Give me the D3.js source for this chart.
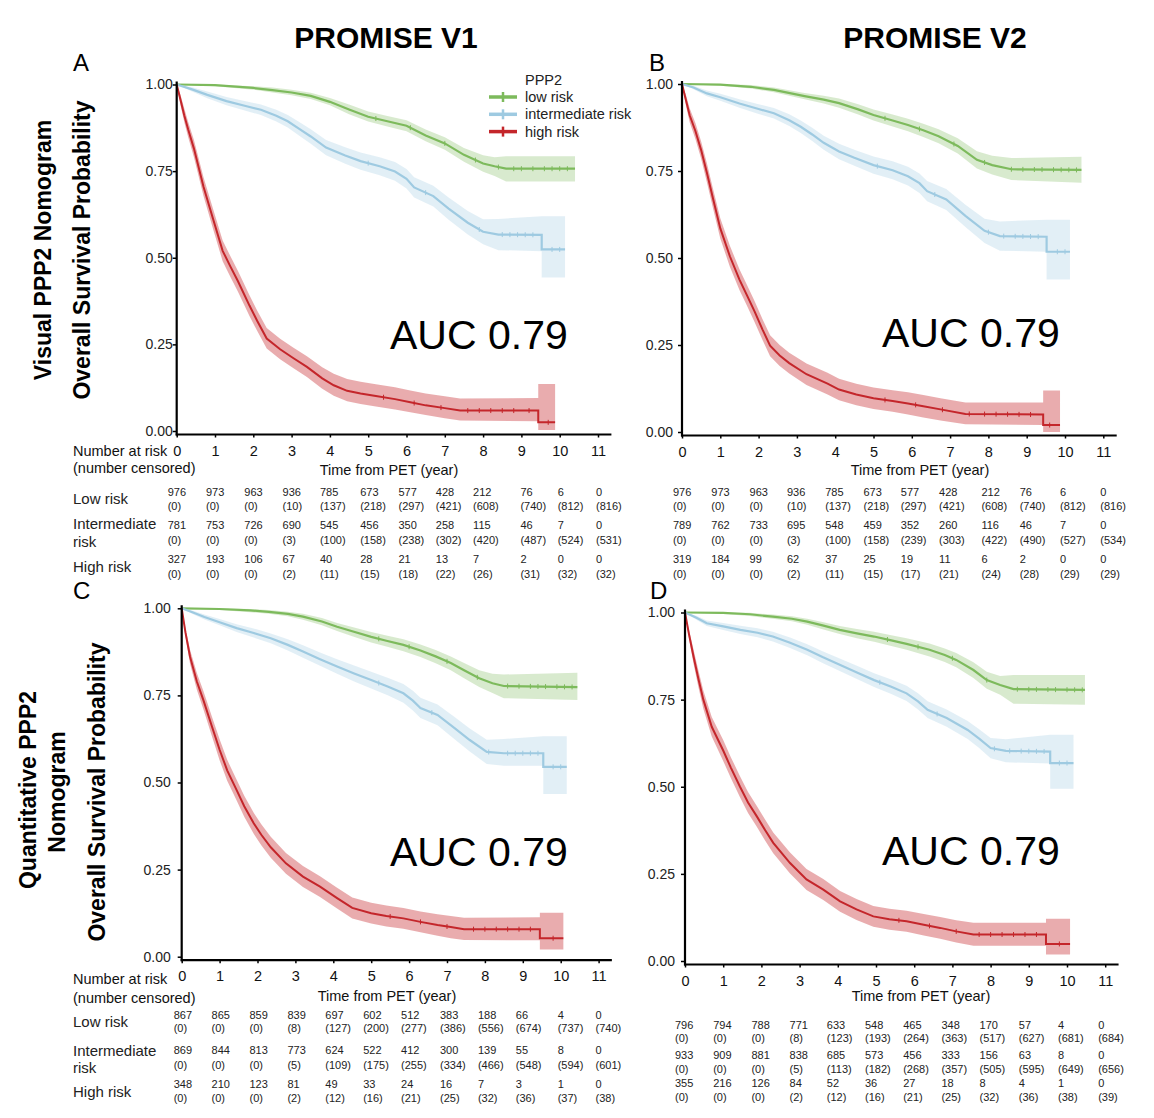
<!DOCTYPE html>
<html><head><meta charset="utf-8">
<script src="https://cdn.jsdelivr.net/npm/d3@7/dist/d3.min.js"></script>
<style>body{margin:0;background:#fff}</style>
</head><body>
<script>
// ---------- shared categories / ticks ----------
const years = [0,1,2,3,4,5,6,7,8,9,10,11];
const yTicks = [0, 0.25, 0.5, 0.75, 1];
const groupLabels = ["low risk", "intermediate risk", "high risk"];
const rowLabels = [["Low risk"], ["Intermediate", "risk"], ["High risk"]];
const colTitles = ["PROMISE V1", "PROMISE V2"];
const aucText = "AUC 0.79";

// ---------- Panel A (Visual, V1) ----------
const A_low_t  = [0,1,2,2.5,3,3.5,4,4.5,5,5.5,6,6.5,7,7.5,8,8.3,8.6,10.4];
const A_low_s  = [1,0.998,0.99,0.984,0.977,0.967,0.95,0.928,0.907,0.894,0.881,0.853,0.83,0.797,0.772,0.764,0.757,0.757];
const A_low_lo = [1,0.995,0.985,0.977,0.969,0.958,0.94,0.914,0.893,0.879,0.865,0.836,0.812,0.777,0.748,0.736,0.72,0.72];
const A_low_hi = [1,1,0.995,0.991,0.985,0.976,0.961,0.942,0.922,0.909,0.897,0.87,0.848,0.817,0.796,0.79,0.793,0.793];
const A_low_c  = [5.2,6.1,7.0,7.8,8.4,8.8,9.0,9.3,9.6,9.8,10.0,10.2];
const A_int_t  = [0,0.4,0.8,1.3,1.8,2.2,2.6,2.9,3.2,3.5,3.9,4.4,4.8,5.3,5.7,6.0,6.2,6.7,7.1,7.6,8.0,8.4,9.53,9.53,10.14];
const A_int_s  = [1,0.986,0.97,0.952,0.938,0.927,0.91,0.894,0.872,0.85,0.818,0.795,0.779,0.764,0.749,0.728,0.703,0.678,0.642,0.601,0.575,0.567,0.566,0.524,0.524];
const A_int_lo = [1,0.98,0.96,0.94,0.924,0.912,0.893,0.876,0.852,0.829,0.796,0.771,0.754,0.738,0.722,0.7,0.674,0.648,0.61,0.567,0.539,0.522,0.519,0.443,0.443];
const A_int_hi = [1,0.992,0.98,0.964,0.952,0.942,0.927,0.912,0.892,0.871,0.84,0.819,0.804,0.79,0.776,0.756,0.732,0.708,0.674,0.635,0.611,0.612,0.62,0.62,0.62];
const A_int_c  = [5.0,6.5,7.9,8.5,8.7,8.9,9.1,9.3,9.8,10.0];
const A_high_t  = [0,0.1,0.2,0.3,0.45,0.7,0.95,1.2,1.4,1.6,1.9,2.1,2.35,2.7,3.05,3.4,3.8,4.1,4.45,4.8,5.2,5.7,6.1,6.5,7.0,7.4,9.44,9.44,9.88];
const A_high_s  = [1,0.955,0.91,0.87,0.815,0.705,0.612,0.52,0.475,0.432,0.362,0.318,0.267,0.236,0.21,0.185,0.152,0.132,0.116,0.108,0.101,0.092,0.083,0.074,0.066,0.059,0.059,0.025,0.025];
const A_high_lo = [1,0.94,0.89,0.848,0.79,0.678,0.583,0.49,0.445,0.402,0.332,0.289,0.238,0.207,0.181,0.156,0.122,0.102,0.086,0.078,0.071,0.062,0.054,0.046,0.037,0.03,0.028,0.003,0.003];
const A_high_hi = [1,0.97,0.93,0.892,0.84,0.732,0.641,0.55,0.505,0.462,0.392,0.348,0.297,0.266,0.24,0.216,0.184,0.165,0.15,0.142,0.135,0.126,0.117,0.108,0.1,0.094,0.095,0.136,0.136];
const A_high_c  = [5.4,6.2,6.9,7.6,7.9,8.2,8.5,8.8,9.2,9.7];
const A_nrisk_low  = [976,973,963,936,785,673,577,428,212,76,6,0];
const A_ncens_low  = [0,0,0,10,137,218,297,421,608,740,812,816];
const A_nrisk_int  = [781,753,726,690,545,456,350,258,115,46,7,0];
const A_ncens_int  = [0,0,0,3,100,158,238,302,420,487,524,531];
const A_nrisk_high = [327,193,106,67,40,28,21,13,7,2,0,0];
const A_ncens_high = [0,0,0,2,11,15,18,22,26,31,32,32];

// ---------- Panel B (Visual, V2) ----------
const B_low_t  = [0,1,1.8,2.4,3.2,3.7,4.1,4.6,5.0,5.5,5.9,6.3,6.7,7.2,7.7,8.1,8.6,10.43];
const B_low_s  = [1,0.998,0.992,0.983,0.965,0.955,0.945,0.927,0.911,0.895,0.882,0.867,0.85,0.822,0.782,0.767,0.755,0.753];
const B_low_lo = [1,0.995,0.987,0.976,0.956,0.944,0.932,0.912,0.895,0.878,0.864,0.848,0.83,0.8,0.757,0.74,0.724,0.716];
const B_low_hi = [1,1,0.997,0.99,0.974,0.966,0.958,0.942,0.927,0.912,0.9,0.886,0.87,0.844,0.807,0.794,0.787,0.791];
const B_low_c  = [5.3,6.2,7.1,7.9,8.6,8.9,9.2,9.4,9.7,9.9,10.1,10.3];
const B_int_t  = [0,0.3,0.65,1.0,1.5,2.0,2.4,2.8,3.1,3.4,3.7,4.1,4.5,5.0,5.5,5.9,6.2,6.4,6.9,7.4,7.9,8.3,9.52,9.52,10.13];
const B_int_s  = [1,0.99,0.973,0.962,0.944,0.928,0.916,0.896,0.877,0.855,0.831,0.806,0.788,0.767,0.752,0.735,0.715,0.692,0.668,0.621,0.578,0.563,0.561,0.518,0.518];
const B_int_lo = [1,0.985,0.965,0.952,0.932,0.914,0.901,0.879,0.859,0.836,0.811,0.784,0.765,0.742,0.726,0.708,0.687,0.663,0.638,0.589,0.543,0.521,0.518,0.438,0.438];
const B_int_hi = [1,0.995,0.981,0.972,0.956,0.942,0.931,0.913,0.895,0.874,0.851,0.828,0.811,0.792,0.778,0.762,0.743,0.721,0.698,0.653,0.613,0.605,0.61,0.61,0.61];
const B_int_c  = [5.1,6.6,8.0,8.4,8.7,8.9,9.1,9.3,9.8,10.0];
const B_high_t  = [0,0.1,0.2,0.35,0.5,0.65,0.8,1.0,1.25,1.5,1.7,1.9,2.1,2.3,2.55,2.8,3.25,3.8,4.1,4.55,5.0,5.5,5.9,6.3,6.75,7.4,9.43,9.43,9.87];
const B_high_s  = [1,0.955,0.91,0.865,0.81,0.745,0.675,0.585,0.505,0.438,0.392,0.345,0.295,0.248,0.22,0.198,0.166,0.139,0.122,0.108,0.097,0.089,0.082,0.074,0.065,0.052,0.05,0.02,0.02];
const B_high_lo = [1,0.94,0.89,0.842,0.785,0.718,0.647,0.556,0.475,0.408,0.362,0.315,0.265,0.218,0.19,0.168,0.135,0.108,0.091,0.077,0.066,0.058,0.05,0.042,0.033,0.022,0.02,0.0,0.0];
const B_high_hi = [1,0.97,0.93,0.888,0.835,0.772,0.703,0.614,0.535,0.468,0.422,0.375,0.325,0.278,0.25,0.228,0.197,0.17,0.153,0.139,0.128,0.12,0.114,0.106,0.097,0.085,0.085,0.119,0.119];
const B_high_c  = [5.3,6.1,6.8,7.5,7.9,8.2,8.5,8.8,9.1,9.6];
const B_nrisk_low  = [976,973,963,936,785,673,577,428,212,76,6,0];
const B_ncens_low  = [0,0,0,10,137,218,297,421,608,740,812,816];
const B_nrisk_int  = [789,762,733,695,548,459,352,260,116,46,7,0];
const B_ncens_int  = [0,0,0,3,100,158,239,303,422,490,527,534];
const B_nrisk_high = [319,184,99,62,37,25,19,11,6,2,0,0];
const B_ncens_high = [0,0,0,2,11,15,17,21,24,28,29,29];

// ---------- Panel C (Quantitative, V1) ----------
const C_low_t  = [0,1,1.8,2.3,2.8,3.2,3.7,4.1,4.5,5.0,5.4,5.85,6.3,6.7,7.1,7.45,7.85,8.2,8.5,10.44];
const C_low_s  = [1,0.998,0.994,0.99,0.984,0.976,0.962,0.947,0.934,0.918,0.907,0.895,0.879,0.862,0.843,0.822,0.799,0.785,0.777,0.774];
const C_low_lo = [1,0.995,0.989,0.984,0.977,0.967,0.951,0.935,0.92,0.902,0.89,0.877,0.86,0.842,0.822,0.799,0.774,0.757,0.742,0.737];
const C_low_hi = [1,1,0.998,0.995,0.99,0.984,0.972,0.958,0.946,0.932,0.922,0.911,0.896,0.88,0.862,0.843,0.822,0.812,0.81,0.815];
const C_low_c  = [5.2,6.0,7.0,7.8,8.6,8.9,9.2,9.4,9.6,9.9,10.1,10.3];
const C_int_t  = [0,0.3,0.6,1.0,1.45,1.9,2.35,2.8,3.2,3.65,4.1,4.55,5.0,5.45,5.85,6.1,6.3,6.75,7.2,7.6,8.05,8.5,9.54,9.54,10.16];
const C_int_s  = [1,0.988,0.975,0.96,0.943,0.929,0.914,0.895,0.876,0.854,0.833,0.813,0.794,0.775,0.756,0.735,0.714,0.694,0.656,0.622,0.588,0.584,0.584,0.545,0.545];
const C_int_lo = [1,0.983,0.968,0.951,0.932,0.916,0.9,0.879,0.858,0.835,0.812,0.79,0.77,0.75,0.729,0.707,0.685,0.664,0.624,0.589,0.553,0.548,0.548,0.467,0.467];
const C_int_hi = [1,0.993,0.982,0.969,0.954,0.942,0.928,0.911,0.894,0.873,0.854,0.836,0.818,0.8,0.783,0.763,0.743,0.724,0.688,0.655,0.623,0.625,0.633,0.633,0.633];
const C_int_c  = [5.2,6.6,8.1,8.6,8.8,9.0,9.2,9.4,9.8,10.0];
const C_high_t  = [0,0.1,0.22,0.4,0.57,0.8,1.0,1.2,1.45,1.65,1.9,2.1,2.35,2.75,3.2,3.65,4.1,4.5,5.0,5.4,5.85,6.3,6.75,7.1,7.45,9.45,9.45,10.07];
const C_high_s  = [1,0.93,0.861,0.79,0.737,0.66,0.594,0.535,0.478,0.432,0.383,0.35,0.314,0.268,0.23,0.201,0.168,0.14,0.125,0.117,0.11,0.1,0.091,0.085,0.079,0.079,0.053,0.053];
const C_high_lo = [1,0.918,0.841,0.766,0.711,0.632,0.564,0.505,0.448,0.402,0.353,0.32,0.284,0.238,0.2,0.171,0.138,0.11,0.095,0.087,0.08,0.07,0.06,0.053,0.048,0.047,0.021,0.021];
const C_high_hi = [1,0.942,0.881,0.814,0.763,0.688,0.624,0.565,0.508,0.462,0.413,0.38,0.344,0.298,0.26,0.231,0.198,0.17,0.155,0.147,0.14,0.13,0.122,0.117,0.112,0.113,0.126,0.126];
const C_high_c  = [5.5,6.3,7.0,7.7,8.0,8.3,8.6,8.9,9.2,9.8];
const C_nrisk_low  = [867,865,859,839,697,602,512,383,188,66,4,0];
const C_ncens_low  = [0,0,0,8,127,200,277,386,556,674,737,740];
const C_nrisk_int  = [869,844,813,773,624,522,412,300,139,55,8,0];
const C_ncens_int  = [0,0,0,5,109,175,255,334,466,548,594,601];
const C_nrisk_high = [348,210,123,81,49,33,24,16,7,3,1,0];
const C_ncens_high = [0,0,0,2,12,16,21,25,32,36,37,38];

// ---------- Panel D (Quantitative, V2) ----------
const D_low_t  = [0,1,1.7,2.3,2.8,3.2,3.6,4.05,4.5,4.95,5.4,5.8,6.4,6.8,7.1,7.55,7.9,8.25,8.6,10.47];
const D_low_s  = [1,0.999,0.995,0.988,0.982,0.974,0.963,0.95,0.94,0.931,0.92,0.91,0.893,0.878,0.864,0.835,0.806,0.792,0.78,0.778];
const D_low_lo = [1,0.996,0.99,0.982,0.975,0.965,0.952,0.938,0.926,0.916,0.904,0.893,0.874,0.858,0.843,0.812,0.781,0.764,0.738,0.735];
const D_low_hi = [1,1,0.999,0.994,0.989,0.982,0.973,0.961,0.953,0.945,0.935,0.926,0.911,0.897,0.884,0.857,0.83,0.818,0.821,0.821];
const D_low_c  = [5.3,6.1,7.0,7.9,8.7,9.0,9.2,9.5,9.7,10.0,10.2,10.4];
const D_int_t  = [0,0.3,0.57,1.0,1.45,1.9,2.3,2.75,3.2,3.6,4.05,4.5,4.95,5.4,5.8,6.1,6.35,6.85,7.4,7.7,8.0,8.4,9.56,9.56,10.17];
const D_int_s  = [1,0.985,0.969,0.96,0.95,0.942,0.931,0.913,0.893,0.872,0.85,0.828,0.806,0.787,0.768,0.745,0.721,0.697,0.663,0.638,0.611,0.603,0.601,0.568,0.568];
const D_int_lo = [1,0.979,0.961,0.95,0.938,0.929,0.917,0.898,0.877,0.855,0.832,0.809,0.786,0.766,0.746,0.722,0.697,0.672,0.637,0.611,0.582,0.57,0.567,0.494,0.494];
const D_int_hi = [1,0.991,0.977,0.97,0.962,0.955,0.945,0.928,0.909,0.889,0.868,0.847,0.826,0.808,0.79,0.768,0.745,0.722,0.689,0.665,0.64,0.636,0.649,0.649,0.649];
const D_int_c  = [5.1,6.6,8.1,8.5,8.8,9.0,9.2,9.4,9.8,10.0];
const D_high_t  = [0,0.1,0.22,0.35,0.48,0.7,1.0,1.2,1.44,1.65,1.88,2.1,2.31,2.75,3.18,3.62,4.06,4.49,4.93,5.35,5.8,6.25,6.68,7.1,7.55,9.45,9.45,10.08];
const D_high_s  = [1,0.94,0.875,0.81,0.75,0.672,0.604,0.555,0.5,0.455,0.415,0.375,0.339,0.281,0.234,0.205,0.171,0.148,0.128,0.12,0.114,0.104,0.095,0.085,0.076,0.076,0.049,0.049];
const D_high_lo = [1,0.928,0.855,0.786,0.724,0.644,0.574,0.525,0.47,0.425,0.385,0.345,0.309,0.251,0.204,0.175,0.141,0.118,0.098,0.09,0.084,0.073,0.064,0.053,0.044,0.044,0.019,0.019];
const D_high_hi = [1,0.952,0.895,0.834,0.776,0.7,0.634,0.585,0.53,0.485,0.445,0.405,0.369,0.311,0.264,0.235,0.201,0.178,0.158,0.15,0.144,0.135,0.126,0.117,0.11,0.11,0.121,0.121];
const D_high_c  = [5.6,6.4,7.1,7.7,8.0,8.3,8.6,8.9,9.2,9.8];
const D_nrisk_low  = [796,794,788,771,633,548,465,348,170,57,4,0];
const D_ncens_low  = [0,0,0,8,123,193,264,363,517,627,681,684];
const D_nrisk_int  = [933,909,881,838,685,573,456,333,156,63,8,0];
const D_ncens_int  = [0,0,0,5,113,182,268,357,505,595,649,656];
const D_nrisk_high = [355,216,126,84,52,36,27,18,8,4,1,0];
const D_ncens_high = [0,0,0,2,12,16,21,25,32,36,38,39];

// ---------- styling ----------
const FONT = "'Liberation Sans', Arial, Helvetica, sans-serif";
const lineColors = ["#7dba5c", "#9ecae1", "#c4262b"];
const bandOpacity = [0.3, 0.3, 0.38];

const W = 1154, H = 1118;
const svg = d3.select("body").append("svg").attr("width", W).attr("height", H)
  .style("font-family", FONT);
svg.append("rect").attr("width", W).attr("height", H).attr("fill", "#fff");

function mkSeries(t, s, lo, hi, c) {
  return {pts: t.map((d, i) => ({t: d, s: s[i], lo: lo[i], hi: hi[i]})), cens: c};
}

const panels = [
  {id: "A", x0: 176.7, k: 38.3, yTop: 84.5, yBot: 431, yPad: 0, letter: [73, 62], auc: [390, 335],
   tickY: 451, timeX: 389, timeY: 470, rowsY: [[492, 506], [525, 540], [559, 574]],
   colOff: [-9,-9,-9,-9,-10,-8,-8,-9,-10,-1,-2,-2], legend: true, labels: true,
   labelY: [[498], [523, 541], [566]], nrY: [451, 468],
   series: [mkSeries(A_low_t, A_low_s, A_low_lo, A_low_hi, A_low_c), mkSeries(A_int_t, A_int_s, A_int_lo, A_int_hi, A_int_c), mkSeries(A_high_t, A_high_s, A_high_lo, A_high_hi, A_high_c)],
   table: [[A_nrisk_low, A_ncens_low], [A_nrisk_int, A_ncens_int], [A_nrisk_high, A_ncens_high]]},
  {id: "B", x0: 682, k: 38.3, yTop: 84, yBot: 432, yPad: 5, letter: [649, 62], auc: [882, 333],
   tickY: 451, timeX: 920, timeY: 470, rowsY: [[492, 506], [525, 540], [559, 574]],
   colOff: [-9,-9,-9,-10,-10,-10,-11,-11,-7,-7,-5,-3], legend: false, labels: false,
   series: [mkSeries(B_low_t, B_low_s, B_low_lo, B_low_hi, B_low_c), mkSeries(B_int_t, B_int_s, B_int_lo, B_int_hi, B_int_c), mkSeries(B_high_t, B_high_s, B_high_lo, B_high_hi, B_high_c)],
   table: [[B_nrisk_low, B_ncens_low], [B_nrisk_int, B_ncens_int], [B_nrisk_high, B_ncens_high]]},
  {id: "C", x0: 181.7, k: 37.9, yTop: 608.3, yBot: 956.7, yPad: 7, letter: [73, 590], auc: [390, 852],
   tickY: 977, timeX: 387, timeY: 996, rowsY: [[1015, 1028], [1050, 1065], [1084, 1098]],
   colOff: [-8,-8,-8,-8,-8,-8,-8,-7,-7,-7,-3,-3], legend: false, labels: true,
   labelY: [[1021], [1050, 1067], [1091]], nrY: [979, 998],
   series: [mkSeries(C_low_t, C_low_s, C_low_lo, C_low_hi, C_low_c), mkSeries(C_int_t, C_int_s, C_int_lo, C_int_hi, C_int_c), mkSeries(C_high_t, C_high_s, C_high_lo, C_high_hi, C_high_c)],
   table: [[C_nrisk_low, C_ncens_low], [C_nrisk_int, C_ncens_int], [C_nrisk_high, C_ncens_high]]},
  {id: "D", x0: 685, k: 38.2, yTop: 612.5, yBot: 961, yPad: 6, letter: [650, 590], auc: [882, 851],
   tickY: 977, timeX: 921, timeY: 996, rowsY: [[1025, 1038], [1055, 1069], [1083, 1097]],
   colOff: [-10,-10,-10,-10,-11,-11,-11,-11,-11,-10,-9,-7], legend: false, labels: false,
   series: [mkSeries(D_low_t, D_low_s, D_low_lo, D_low_hi, D_low_c), mkSeries(D_int_t, D_int_s, D_int_lo, D_int_hi, D_int_c), mkSeries(D_high_t, D_high_s, D_high_lo, D_high_hi, D_high_c)],
   table: [[D_nrisk_low, D_ncens_low], [D_nrisk_int, D_ncens_int], [D_nrisk_high, D_ncens_high]]}
];

function valAt(pts, t) {
  for (let i = pts.length - 1; i >= 0; i--) {
    if (pts[i].t <= t) {
      const a = pts[i], b = pts[Math.min(i + 1, pts.length - 1)];
      if (b.t === a.t) return a.s;
      return a.s + (b.s - a.s) * (t - a.t) / (b.t - a.t);
    }
  }
  return pts[0].s;
}

panels.forEach(p => {
  const g = svg.append("g");
  const x = d3.scaleLinear().domain([0, 11]).range([p.x0, p.x0 + 11 * p.k]);
  const y = d3.scaleLinear().domain([0, 1]).range([p.yBot, p.yTop]);
  const axisY = p.yBot + 3.5;

  const area = d3.area().x(d => x(d.t)).y0(d => y(d.lo)).y1(d => y(d.hi));
  const line = d3.line().x(d => x(d.t)).y(d => y(d.s));
  p.series.forEach((s, i) => {
    g.append("path").attr("d", area(s.pts)).attr("fill", lineColors[i]).attr("fill-opacity", bandOpacity[i]);
  });
  p.series.forEach((s, i) => {
    g.append("path").attr("d", line(s.pts)).attr("fill", "none").attr("stroke", lineColors[i])
      .attr("stroke-width", i === 2 ? 2 : 2.2);
    g.selectAll(null).data(s.cens).enter().append("line")
      .attr("x1", d => x(d)).attr("x2", d => x(d))
      .attr("y1", d => y(valAt(s.pts, d)) - 2.5).attr("y2", d => y(valAt(s.pts, d)) + 2.5)
      .attr("stroke", lineColors[i]).attr("stroke-width", 1);
  });

  const xa = g.append("g").attr("transform", `translate(0,${axisY})`)
    .call(d3.axisBottom(x).tickValues(years).tickSize(3).tickPadding(8).tickFormat(d3.format("d")));
  xa.select(".domain").remove();
  xa.selectAll(".tick line").attr("stroke", "#000").attr("stroke-width", 1.5);
  xa.selectAll(".tick text").attr("font-size", 14.5).attr("fill", "#111").attr("font-family", FONT);

  const ya = g.append("g").attr("transform", `translate(${p.x0},0)`)
    .call(d3.axisLeft(y).tickValues(yTicks).tickSize(4).tickPadding(p.yPad).tickFormat(d3.format(".2f")));
  ya.select(".domain").remove();
  ya.selectAll(".tick line").attr("stroke", "#000").attr("stroke-width", 1.5);
  ya.selectAll(".tick text").attr("font-size", 14).attr("fill", "#222").attr("font-family", FONT);

  g.append("line").attr("x1", p.x0 - 1).attr("x2", p.x0 + 11.35 * p.k).attr("y1", axisY).attr("y2", axisY)
    .attr("stroke", "#000").attr("stroke-width", 2.2);
  g.append("line").attr("x1", p.x0).attr("x2", p.x0).attr("y1", p.yTop - 3).attr("y2", axisY + 1)
    .attr("stroke", "#000").attr("stroke-width", 2.2);

  g.append("text").attr("x", p.auc[0]).attr("y", p.auc[1]).attr("dominant-baseline", "central")
    .attr("font-size", 41).attr("fill", "#000").text(aucText);

  g.append("text").attr("x", p.letter[0]).attr("y", p.letter[1]).attr("dominant-baseline", "central")
    .attr("font-size", 24).attr("fill", "#000").text(p.id);

  g.append("text").attr("x", p.timeX).attr("y", p.timeY).attr("text-anchor", "middle")
    .attr("dominant-baseline", "central").attr("font-size", 14.5).attr("fill", "#111").text("Time from PET (year)");

  p.table.forEach((row, r) => {
    years.forEach((yr, c) => {
      const tx = x(yr) + p.colOff[c];
      g.append("text").attr("x", tx).attr("y", p.rowsY[r][0]).attr("dominant-baseline", "central")
        .attr("font-size", 11).attr("fill", "#222").text(row[0][c]);
      g.append("text").attr("x", tx).attr("y", p.rowsY[r][1]).attr("dominant-baseline", "central")
        .attr("font-size", 11).attr("fill", "#222").text(`(${row[1][c]})`);
    });
  });
  if (p.labels) {
    g.append("text").attr("x", 73).attr("y", p.nrY[0]).attr("dominant-baseline", "central")
      .attr("font-size", 14.5).attr("fill", "#111").text("Number at risk");
    g.append("text").attr("x", 73).attr("y", p.nrY[1]).attr("dominant-baseline", "central")
      .attr("font-size", 14.5).attr("fill", "#111").text("(number censored)");
    rowLabels.forEach((lines, r) => {
      lines.forEach((ln, j) => {
        g.append("text").attr("x", 73).attr("y", p.labelY[r][j]).attr("dominant-baseline", "central")
          .attr("font-size", 15).attr("fill", "#222").text(ln);
      });
    });
  }

  if (p.legend) {
    const lg = g.append("g");
    lg.append("text").attr("x", 525).attr("y", 80).attr("dominant-baseline", "central")
      .attr("font-size", 14.5).attr("fill", "#222").text("PPP2");
    groupLabels.forEach((lab, i) => {
      const yy = 97 + i * 17.3;
      lg.append("line").attr("x1", 489).attr("x2", 517).attr("y1", yy).attr("y2", yy)
        .attr("stroke", lineColors[i]).attr("stroke-width", 3.5);
      lg.append("line").attr("x1", 503).attr("x2", 503).attr("y1", yy - 5).attr("y2", yy + 5)
        .attr("stroke", lineColors[i]).attr("stroke-width", 2.5);
      lg.append("text").attr("x", 525).attr("y", yy).attr("dominant-baseline", "central")
        .attr("font-size", 14.5).attr("fill", "#222").text(lab);
    });
  }
});

svg.append("text").attr("x", 386).attr("y", 37).attr("text-anchor", "middle").attr("dominant-baseline", "central")
  .attr("font-size", 30).attr("font-weight", "bold").text(colTitles[0]);
svg.append("text").attr("x", 935).attr("y", 37).attr("text-anchor", "middle").attr("dominant-baseline", "central")
  .attr("font-size", 30).attr("font-weight", "bold").text(colTitles[1]);

function vtext(x, y, str) {
  svg.append("text").attr("transform", `translate(${x},${y}) rotate(-90)`).attr("text-anchor", "middle")
    .attr("dominant-baseline", "central").attr("font-size", 23).attr("font-weight", "bold").text(str);
}
vtext(43, 250, "Visual PPP2 Nomogram");
vtext(82, 250, "Overall Survival Probability");
vtext(28, 790, "Quantitative PPP2");
vtext(57, 792, "Nomogram");
vtext(97, 792, "Overall Survival Probability");
</script>
</body></html>
